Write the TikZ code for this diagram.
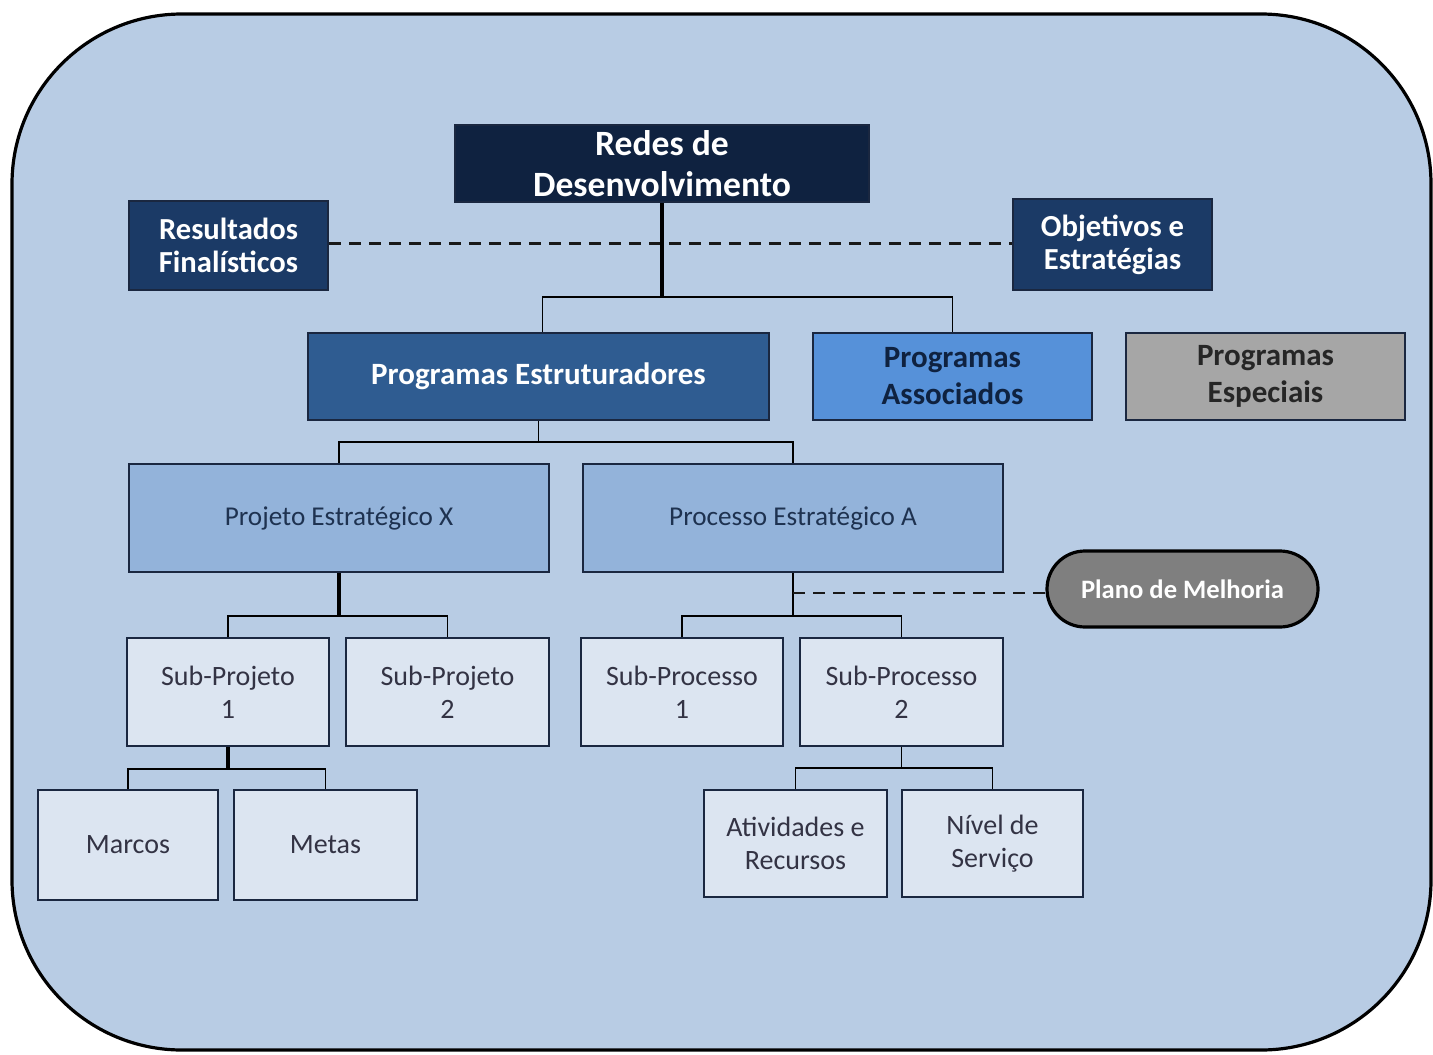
\documentclass[tikz,border=0pt]{standalone}
\usepackage{fontspec}
\setmainfont{Carlito}
\definecolor{bgblue}{HTML}{B8CCE4}
\definecolor{navyA}{HTML}{0F2240}
\definecolor{navyB}{HTML}{1B3A66}
\definecolor{midblue}{HTML}{2F5C91}
\definecolor{brightblue}{HTML}{5691D9}
\definecolor{greybox}{HTML}{A6A6A6}
\definecolor{paleblue}{HTML}{93B3DA}
\definecolor{lightbox}{HTML}{DCE5F1}
\definecolor{edge}{HTML}{1A2740}
\definecolor{darktext}{HTML}{1E3250}
\definecolor{subtext}{HTML}{333344}
\definecolor{plano}{HTML}{7F7F7F}
\tikzset{
  basebox/.style={draw=edge, line width=1pt, align=center, inner sep=2pt},
  topbox/.style={basebox, fill=navyA, text=white, font=\fontsize{17.8}{20.5}\selectfont\bfseries},
  sidebox/.style={basebox, fill=navyB, text=white, font=\fontsize{15.3}{16.5}\selectfont\bfseries},
  progbox/.style={basebox, minimum height=43.5pt},
  stratbox/.style={basebox, fill=paleblue, text=darktext, minimum width=210pt, minimum height=54pt, font=\fontsize{13.6}{15}\selectfont},
  subbox/.style={basebox, fill=lightbox, text=subtext, font=\fontsize{14}{16.5}\selectfont},
  conn/.style={draw=black, line width=0.8pt},
  thickconn/.style={draw=black, line width=1.6pt},
  dashconn/.style={draw=black!90, line width=1.1pt, dash pattern=on 6pt off 4pt},
}
\begin{document}
\begin{tikzpicture}[x=0.5pt, y=-0.5pt]
\useasboundingbox (0,0) rectangle (1433,1054);
\draw[fill=bgblue, line width=1.6pt, rounded corners=85pt] (12,14) rectangle (1431,1050);

\node[topbox, minimum width=207pt, minimum height=38.5pt] (redes) at (662,163.5) {Redes de\\Desenvolvimento};
\node[sidebox, minimum width=99.5pt, minimum height=44.5pt] (res) at (228.5,245.5) {Resultados\\Finalísticos};
\node[sidebox, minimum width=99.5pt, minimum height=45.5pt] (obj) at (1112.5,244.5) {Objetivos e\\Estratégias};

\node[progbox, fill=midblue, text=white, minimum width=230.5pt, font=\fontsize{15.5}{18.5}\selectfont\bfseries] (pe) at (538.5,376.5) {Programas Estruturadores};
\node[progbox, fill=brightblue, text=navyA, minimum width=139.5pt, font=\fontsize{15.5}{18.5}\selectfont\bfseries] (pa) at (952.5,376.5) {Programas\\Associados};
\node[progbox, fill=greybox, text=black!85, minimum width=139.5pt, font=\fontsize{15.5}{18.5}\selectfont\bfseries] (pesp) at (1265.5,376.5) {Programas\\Especiais};

\node[stratbox] (px) at (339,518) {Projeto Estratégico X};
\node[stratbox] (pca) at (793,518) {Processo Estratégico A};

\node[draw=black, line width=1.6pt, fill=plano, text=white, rounded corners=19pt, minimum width=135.5pt, minimum height=38pt, font=\fontsize{13.3}{15}\selectfont\bfseries] (plan) at (1182.5,589) {Plano de Melhoria};

\node[subbox, minimum width=101pt, minimum height=54pt] (sp1) at (228,692) {Sub-Projeto\\1};
\node[subbox, minimum width=101.5pt, minimum height=54pt] (sp2) at (447.5,692) {Sub-Projeto\\2};
\node[subbox, minimum width=101pt, minimum height=54pt] (spc1) at (682,692) {Sub-Processo\\1};
\node[subbox, minimum width=101.5pt, minimum height=54pt] (spc2) at (901.5,692) {Sub-Processo\\2};

\node[subbox, minimum width=90pt, minimum height=55pt] (marcos) at (128,845) {Marcos};
\node[subbox, minimum width=91.5pt, minimum height=55pt] (metas) at (325.5,845) {Metas};
\node[subbox, minimum width=91.5pt, minimum height=53.5pt] (ativ) at (795.5,843.5) {Atividades e\\Recursos};
\node[subbox, minimum width=90.5pt, minimum height=53.5pt] (nivel) at (992.5,843.5) {Nível de\\Serviço};

% dashed link between side boxes
\draw[dashconn] ([yshift=1pt]res.east) -- ([yshift=1pt]res.east -| obj.west);

% Redes -> programas
\coordinate (j1) at ([yshift=-47pt]redes.south);
\draw[thickconn] (redes.south) -- (j1);
\draw[conn] ([xshift=2pt]pe.north) |- (j1) -| (pa.north);

% Programas Estruturadores -> projeto / processo
\coordinate (j2) at ([yshift=-10.5pt]pe.south);
\draw[conn] (pe.south) -- (j2);
\draw[conn] (px.north) |- (j2) -| (pca.north);

% Projeto X -> sub-projetos
\coordinate (j3) at ([yshift=-21.5pt]px.south);
\draw[thickconn] (px.south) -- (j3);
\draw[conn] (sp1.north) |- (j3) -| (sp2.north);

% Processo A -> sub-processos
\coordinate (j4) at ([yshift=-21.5pt]pca.south);
\draw[conn] (pca.south) -- (j4);
\draw[conn] (spc1.north) |- (j4) -| (spc2.north);
\coordinate (j5) at ([yshift=-10pt]pca.south);
\draw[dashconn] (j5) -- (j5 -| plan.west);

% Sub-Projeto 1 -> marcos / metas
\coordinate (j6) at ([yshift=-11pt]sp1.south);
\draw[thickconn] (sp1.south) -- (j6);
\draw[conn] (marcos.north) |- (j6) -| (metas.north);

% Sub-Processo 2 -> atividades / nivel
\coordinate (j7) at ([yshift=-10.5pt]spc2.south);
\draw[conn] (spc2.south) -- (j7);
\draw[conn] (ativ.north) |- (j7) -| (nivel.north);
\end{tikzpicture}
\end{document}
